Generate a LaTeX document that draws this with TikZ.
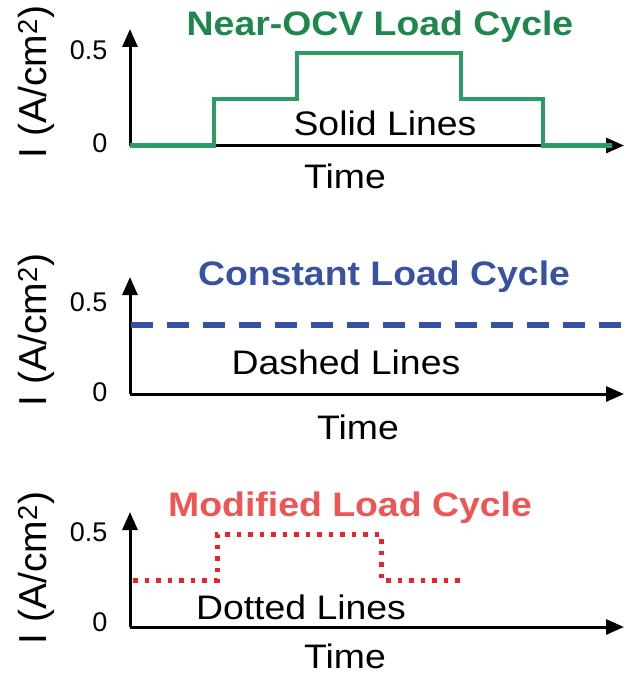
\documentclass[tikz,border=0pt]{standalone}
\usepackage{fontspec}
\setmainfont{Liberation Sans}
\usetikzlibrary{arrows.meta}

\definecolor{ocvtitle}{RGB}{30,135,75}
\definecolor{ocvline}{RGB}{45,155,100}
\definecolor{constblue}{RGB}{55,82,162}
\definecolor{modtitle}{RGB}{240,85,85}
\definecolor{modline}{RGB}{235,35,40}

\begin{document}
\begin{tikzpicture}[x=1pt,y=-1pt,
    axis/.style={line width=3pt,-{Triangle[length=18pt,width=15pt]}},
    ticklabel/.style={anchor=east,font=\fontsize{27}{27}\selectfont},
    ylabel/.style={rotate=90,font=\fontsize{39}{39}\selectfont},
    caption/.style={font=\fontsize{34}{34}\selectfont,xscale=1.1},
    cycletitle/.style={font=\fontsize{34}{34}\selectfont\bfseries,xscale=1.1}]
  \useasboundingbox (0,0) rectangle (625,677);

  % near-OCV load cycle
  \coordinate (o1) at (130,145.5);
  \coordinate (y1) at (130,29);
  \coordinate (x1) at (624,145.5);
  \draw[axis] (o1) -- (y1);
  \draw[axis] (o1) -- (x1);
  \node[ticklabel] (hi1) at (111,50) {0.5};
  \node[ticklabel] (lo1) at (111,143) {0};
  \node[ylabel] (il1) at (36,82) {I (A/cm\textsuperscript{2})};
  \draw[ocvline,line width=4.5pt]
    (130,145.5) -- (214,145.5) -- (214,99) -- (297,99) -- (297,53)
    -- (461,53) -- (461,99) -- (543,99) -- (543,145.5) -- (612,145.5);
  \node[cycletitle,text=ocvtitle] (t1) at (380,27) {Near-OCV Load Cycle};
  \node[caption] (c1) at (385,123) {Solid Lines};
  \node[caption] (time1) at (345,176) {Time};

  % constant load cycle
  \coordinate (o2) at (130,394);
  \coordinate (y2) at (130,277);
  \coordinate (x2) at (624,394);
  \draw[axis] (o2) -- (y2);
  \draw[axis] (o2) -- (x2);
  \node[ticklabel] (hi2) at (111,302) {0.5};
  \node[ticklabel] (lo2) at (111,392) {0};
  \node[ylabel] (il2) at (36,330) {I (A/cm\textsuperscript{2})};
  \draw[constblue,line width=6.5pt,dash pattern=on 22pt off 14pt]
    (131,325) -- (625,325);
  \node[cycletitle,text=constblue] (t2) at (384,277) {Constant Load Cycle};
  \node[caption] (c2) at (346,362) {Dashed Lines};
  \node[caption] (time2) at (358,427) {Time};

  % modified load cycle
  \coordinate (o3) at (130,627);
  \coordinate (y3) at (130,512);
  \coordinate (x3) at (624,627);
  \draw[axis] (o3) -- (y3);
  \draw[axis] (o3) -- (x3);
  \node[ticklabel] (hi3) at (111,532) {0.5};
  \node[ticklabel] (lo3) at (111,622) {0};
  \node[ylabel] (il3) at (36,568) {I (A/cm\textsuperscript{2})};
  \draw[modline,line width=5pt,dash pattern=on 4.5pt off 7pt]
    (133,580) -- (217,580) -- (217,534) -- (381,534) -- (381,580) -- (460,580);
  \node[cycletitle,text=modtitle] (t3) at (350,508) {Modified Load Cycle};
  \node[caption] (c3) at (301,607) {Dotted Lines};
  \node[caption] (time3) at (345,656) {Time};
\end{tikzpicture}
\end{document}
